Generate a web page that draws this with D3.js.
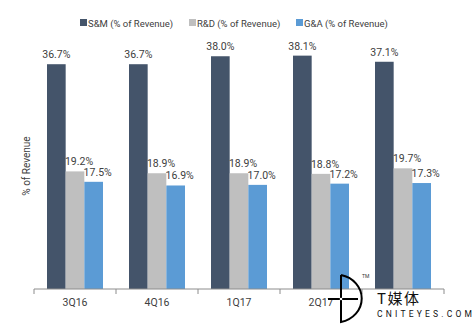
<!DOCTYPE html>
<html>
<head>
<meta charset="utf-8">
<script src="https://cdn.jsdelivr.net/npm/d3@7"></script>
<style>
  body { margin: 0; background: #fff; }
  svg { font-family: Roboto, "Liberation Sans", Arial, sans-serif; }
</style>
</head>
<body>
<svg width="475" height="333"></svg>
<script>
const quarters = ["3Q16", "4Q16", "1Q17", "2Q17", "3Q17"];
const seriesNames = ["S&M (% of Revenue)", "R&D (% of Revenue)", "G&A (% of Revenue)"];
const smValues = [36.7, 36.7, 38.0, 38.1, 37.1];
const rdValues = [19.2, 18.9, 18.9, 18.8, 19.7];
const gaValues = [17.5, 16.9, 17.0, 17.2, 17.3];
const colors = ["#44546a", "#bfbfbf", "#5b9bd5"];

const svg = d3.select("svg");
const baseY = 289;

const x = d3.scaleBand().domain(quarters).range([34, 444]);
const inner = d3.scaleBand().domain(d3.range(3)).range([13, 69]);
const y = d3.scaleLinear().domain([0, 40]).range([baseY, 44]);

const rows = quarters.map((q, i) => ({ q, vals: [smValues[i], rdValues[i], gaValues[i]] }));

const groups = svg.selectAll("g.grp")
  .data(rows)
  .join("g")
  .attr("class", "grp")
  .attr("transform", (d) => `translate(${x(d.q)},0)`);

groups.selectAll("rect")
  .data((d) => d.vals)
  .join("rect")
  .attr("x", (d, i) => inner(i))
  .attr("width", inner.bandwidth())
  .attr("y", (d) => y(d))
  .attr("height", (d) => baseY - y(d))
  .style("fill", (d, i) => colors[i]);

// value labels, the two short bars shifted right a bit
groups.selectAll("text")
  .data((d) => d.vals)
  .join("text")
  .attr("x", (d, i) => inner(i) + inner.bandwidth() / 2 + (i === 0 ? 0 : 4))
  .attr("y", (d) => y(d) - 6)
  .attr("text-anchor", "middle")
  .style("font-size", "10.5px")
  .style("fill", "#404040")
  .text((d) => d.toFixed(1) + "%");

// x axis with ticks between categories
const axisG = svg.append("g").attr("transform", `translate(0,${baseY})`);
axisG.append("line")
  .attr("x1", 34).attr("x2", 444)
  .style("stroke", "#8c8c8c");
axisG.selectAll("line.tick")
  .data(quarters.concat(["end"]))
  .join("line")
  .attr("class", "tick")
  .attr("x1", (d, i) => 34 + i * x.step())
  .attr("x2", (d, i) => 34 + i * x.step())
  .attr("y1", 0).attr("y2", 5)
  .style("stroke", "#8c8c8c");
// last category label sits under the logo, so leave it out
axisG.selectAll("text")
  .data(quarters.slice(0, -1))
  .join("text")
  .attr("x", (d) => x(d) + x.bandwidth() / 2)
  .attr("y", 17)
  .attr("text-anchor", "middle")
  .style("font-size", "10.5px")
  .style("fill", "#404040")
  .text((d) => d);

svg.append("text")
  .attr("transform", "translate(30,166) rotate(-90)")
  .attr("text-anchor", "middle")
  .style("font-size", "10px")
  .style("fill", "#404040")
  .text("% of Revenue");

// legend
const legendX = [80, 189, 296];
const legend = svg.selectAll("g.leg")
  .data(seriesNames)
  .join("g")
  .attr("class", "leg")
  .attr("transform", (d, i) => `translate(${legendX[i]},23)`);
legend.append("rect")
  .attr("y", -4).attr("width", 7).attr("height", 7)
  .style("fill", (d, i) => colors[i]);
legend.append("text")
  .attr("x", 8).attr("y", 3.5)
  .style("font-size", "9.5px")
  .style("fill", "#404040")
  .text((d) => d);

// logo mark
const logo = svg.append("g");
logo.append("path")
  .attr("d", "M341,275 L341,322 A26,24 0 0 0 341,275")
  .style("fill", "none").style("stroke", "#000").style("stroke-width", 2);
logo.append("line")
  .attr("x1", 328).attr("x2", 358).attr("y1", 299).attr("y2", 299)
  .style("stroke", "#000").style("stroke-width", 2);
logo.append("circle")
  .attr("cx", 341).attr("cy", 299).attr("r", 1.3).style("fill", "#fff");
logo.append("text")
  .attr("x", 362).attr("y", 278)
  .style("font-size", "5px").style("fill", "#333")
  .text("TM");
logo.append("text")
  .attr("x", 377).attr("y", 304)
  .style("font-family", "'Noto Sans CJK SC', sans-serif")
  .style("font-size", "15px").style("letter-spacing", "1.5px").style("fill", "#111")
  .text("T媒体");
logo.append("text")
  .attr("x", 377).attr("y", 317)
  .style("font-size", "8.5px").style("letter-spacing", "3.2px").style("fill", "#111")
  .text("CNITEYES.COM");
</script>
</body>
</html>
